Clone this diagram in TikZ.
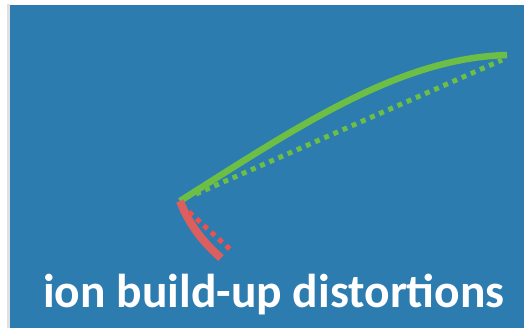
\documentclass[tikz,border=0pt]{standalone}
\usepackage{fontspec}
\setmainfont{Carlito}
\usetikzlibrary{positioning}
\definecolor{bgblue}{HTML}{2D7CB0}
\definecolor{fitgreen}{HTML}{6DBE45}
\definecolor{iored}{HTML}{DB5F5E}
\definecolor{dotred}{HTML}{EE5050}

\begin{document}
\begin{tikzpicture}[x=1pt, y=-1pt,
  solidpath/.style={line width=6.5pt},
  dotpath/.style={line width=5pt, dash pattern=on 5pt off 5pt},
  caption/.style={text=white, font=\fontsize{47.5}{47.5}\selectfont\bfseries,
    inner sep=0pt, anchor=base west}]
  \useasboundingbox (0,0) rectangle (524,328);
  \fill[white] (0,0) rectangle (524,328);
  \fill[black!12] (7,4) rectangle (10,328);
  \fill[bgblue] (10,5) rectangle (524,328);
  % turning point and end points
  \coordinate (turn) at (180,201);
  \coordinate (top) at (507,55);
  \coordinate (dtop) at (502,60);
  \coordinate (dturn) at (196,194);
  \coordinate (low) at (221,258);
  \coordinate (dlow) at (233,252);
  \coordinate (rturn) at (189,212);
  % green: build-up and its straight reference
  \draw[solidpath, fitgreen] (turn) .. controls (300,125) and (400,58) .. (top);
  \draw[dotpath, fitgreen] (dturn) -- (dtop);
  % red: distortion at the start
  \draw[solidpath, iored, line width=8pt] (turn) .. controls (189,225) and (204,243) .. (low);
  \draw[dotpath, dotred] (rturn) -- (dlow);
  \node[caption] (label) at (43,307) {ion build-up distortions};
\end{tikzpicture}
\end{document}
